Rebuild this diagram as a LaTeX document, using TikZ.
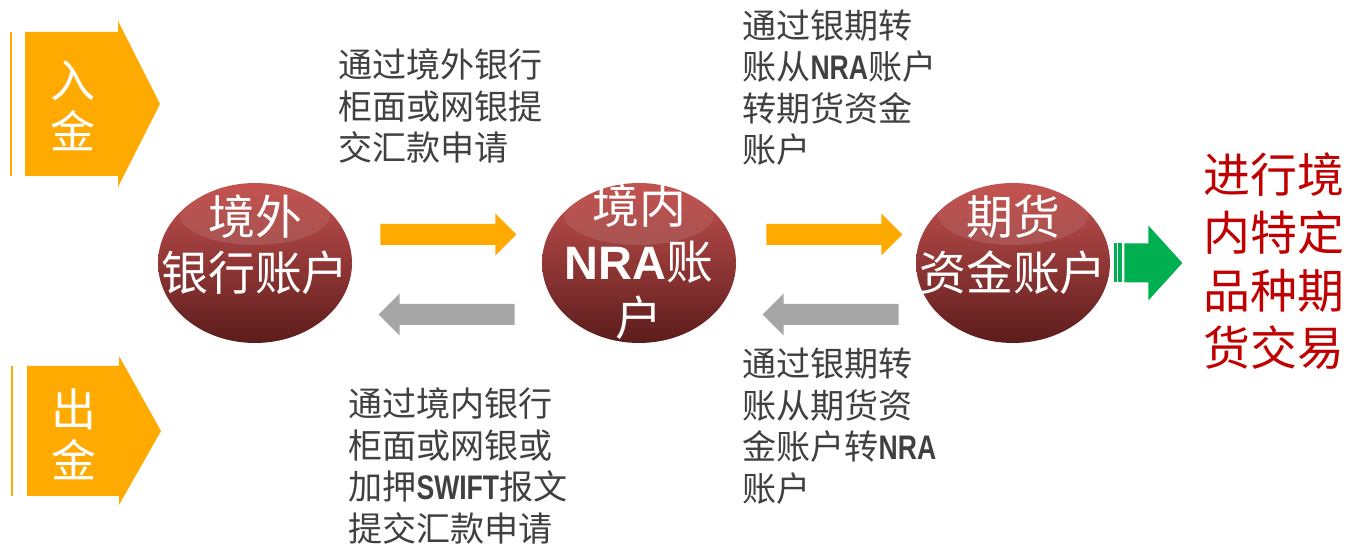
\documentclass[tikz,border=0pt]{standalone}
\usepackage{fontspec}
\setmainfont{Noto Sans CJK SC}
\newfontfamily\arialfont{Liberation Sans}
\newfontfamily\narrowfont{Liberation Sans}[FakeStretch=0.78]
\usetikzlibrary{calc,positioning,shapes.geometric,fadings}
\definecolor{flowor}{HTML}{FFAA00}
\definecolor{backgray}{HTML}{A6A6A6}
\definecolor{gogreen}{HTML}{00B050}
\definecolor{tradered}{HTML}{C00000}
\definecolor{notegray}{HTML}{404040}
\definecolor{accTop}{HTML}{C4524F}
\definecolor{accMid}{HTML}{983432}
\definecolor{accBot}{HTML}{5C1C1C}
\tikzset{%
	account/.style  = {ellipse, minimum width=3.88cm, minimum height=3.2cm, inner sep=0pt, top color=accTop, middle color=accMid, bottom color=accBot,
		path picture={\fill[white, path fading=north, fill opacity=0.32] ($(path picture bounding box.center)+(0,-48)$) ellipse [x radius=1.5cm, y radius=0.6cm];}},
	acctext/.style  = {inner sep=0pt, text=white, align=center, font=\fontsize{26.7pt}{31.9pt}\selectfont},
	chevtext/.style = {inner sep=0pt, text=white, align=center, font=\fontsize{25.6pt}{29pt}\selectfont},
	note/.style     = {inner sep=0pt, anchor=west, align=left, text=notegray, font=\fontsize{19.4pt}{23.6pt}\selectfont},
	trade/.style    = {inner sep=0pt, align=center, text=tradered, font=\fontsize{26.7pt}{32.8pt}\selectfont},
	pics/fatarrow/.style = {code={\fill (0,-10.5) -- (115,-10.5) -- (115,-21) -- (136,0) -- (115,21) -- (115,10.5) -- (0,10.5) -- cycle;}},
}
\newcommand{\nb}[1]{{\narrowfont\bfseries #1}}

\begin{document}
\begin{tikzpicture}[x=0.02cm, y=-0.02cm]
	\useasboundingbox (0,0) rectangle (1348,546);
	
	% in / out chevrons
	\fill[flowor] (9.5,32) rectangle (12,176);
	\fill[flowor] (25,32) -- (118,32) -- (118,21) -- (160,104) -- (118,187) -- (118,176) -- (25,176) -- cycle;
	\node[chevtext] (deposit) at (73,106) {入\\金};
	\fill[flowor] (10.5,366) rectangle (13,496);
	\fill[flowor] (27,366) -- (119,366) -- (119,356) -- (161,431) -- (119,505) -- (119,496) -- (27,496) -- cycle;
	\node[chevtext] (withdraw) at (74,434) {出\\金};
	
	\foreach \name/\x in {bank/255,nra/639,futures/1013} \node[account] (\name) at (\x,263) {};
	
	\node[acctext] (banktext) at ($(bank)+(0,-18)$) {境外\\银行账户};
	\node[acctext] (nratext) at ($(nra)+(0,-1)$) {境内\\{\arialfont\bfseries NRA}账\\户};
	\node[acctext] (futurestext) at ($(futures)+(0,-18)$) {期货\\资金账户};
	
	\pic[fill=flowor] at ($(bank.east)+(28,-28.5)$) {fatarrow};
	\pic[fill=backgray, rotate=180] at ($(nra.west)+(-27,51.5)$) {fatarrow};
	\pic[fill=flowor] at ($(nra.east)+(30,-28.5)$) {fatarrow};
	\pic[fill=backgray, rotate=180] at ($(futures.west)+(-17,51.5)$) {fatarrow};
	
	\node[note] (wirein) at (338,106) {通过境外银行\\柜面或网银提\\交汇款申请};
	\node[note] (toFut) at (742,87.5) {通过银期转\\账从\nb{NRA}账户\\转期货资金\\账户};
	\node[note] (wireout) at (348,466) {通过境内银行\\柜面或网银或\\加押\nb{SWIFT}报文\\提交汇款申请};
	\node[note] (toNra) at (742,426) {通过银期转\\账从期货资\\金账户转\nb{NRA}\\账户};
	
	\node[trade] (trading) at (1274,261.5) {进行境\\内特定\\品种期\\货交易};
	
	% green arrow to trading
	\fill[gogreen] ($(futures.east)+(4,-19.5)$) rectangle ++(3,39);
	\fill[gogreen] ($(futures.east)+(8,-19.5)$) rectangle ++(4,39);
	\fill[gogreen] ($(futures.east)+(14,-19.5)$) -- ++(24,0) -- ++(0,-18) -- ++(34,37.5) -- ++(-34,37.5) -- ++(0,-18) -- ++(-24,0) -- cycle;
\end{tikzpicture}
\end{document}
